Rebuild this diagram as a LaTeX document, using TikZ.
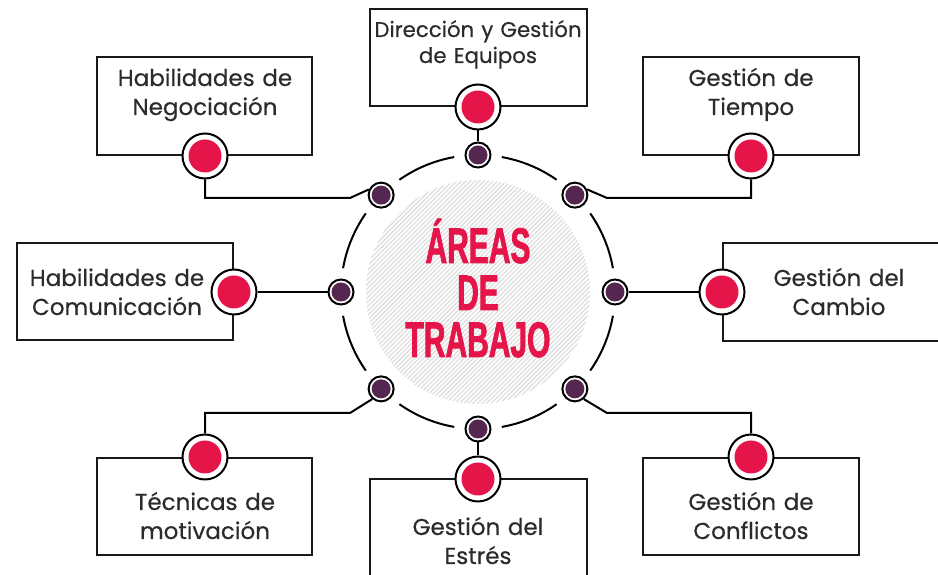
\documentclass[tikz,border=0pt]{standalone}
\usepackage{fontspec}
\usetikzlibrary{calc}
\newfontfamily\lblfont{Poppins}[FakeBold=0.4]
\newfontfamily\ttlfont{Liberation Sans Bold}[FakeStretch=0.6,FakeBold=1.5]
\definecolor{ink}{HTML}{2B2B2B}
\definecolor{crim}{HTML}{E5154A}
\definecolor{plum}{HTML}{55264F}
\definecolor{hatchc}{HTML}{D8D8D8}
\tikzset{
  boxnode/.style={draw=black!90, line width=2pt, fill=white, rectangle, inner sep=0pt},
  lbl/.style={text=ink, font=\lblfont\fontsize{23}{29}\selectfont, align=center, text width=225pt, anchor=base, inner sep=0pt},
  lblsmall/.style={lbl, font=\lblfont\fontsize{21.3}{26}\selectfont},
  smallnode/.style={circle, draw=black, line width=2pt, fill=white, minimum size=25pt, inner sep=0pt,
    path picture={\fill[plum] (path picture bounding box.center) circle (9.5pt);}},
  bignode/.style={circle, draw=black, line width=2pt, fill=white, minimum size=45pt, inner sep=0pt,
    path picture={\fill[crim] (path picture bounding box.center) circle (16.5pt);}},
  conn/.style={line width=2pt, draw=black},
  ringarc/.style={line width=2pt, draw=black},
}
\begin{document}
\begin{tikzpicture}[x=1pt,y=1pt]
\useasboundingbox (0,0) rectangle (938,575);
\clip (0,0) rectangle (938,575);
\coordinate (C) at (478,283);
% hatched centre disc
\fill[white!99!black] (C) circle (112);
\begin{scope}
  \clip (C) circle (112);
  \foreach \i in {-240,-235.5,...,240} {
    \draw[hatchc, line width=0.8pt] ($(C)+(\i-120,-120)$) -- ++(240,240);
  }
\end{scope}
% ring arcs
\foreach \k in {0,...,7} {
  \draw[ringarc] ($(C)+({45*\k+10}:137)$) arc[start angle={45*\k+10}, end angle={45*\k+35}, radius=137];
}
% title
\node[text=crim, font=\ttlfont\fontsize{50}{47}\selectfont, align=center, text width=200pt, anchor=base, inner sep=0pt] (title) at (478,312) {ÁREAS\\DE\\TRABAJO};
% boxes
\node[boxnode, minimum width=215pt, minimum height=98pt] (b1) at (204.5,469) {};
\node[boxnode, minimum width=217pt, minimum height=97pt] (b2) at (478.5,517.5) {};
\node[boxnode, minimum width=216pt, minimum height=98pt] (b3) at (751,469) {};
\node[boxnode, minimum width=230pt, minimum height=98pt] (b4) at (838,283) {};
\node[boxnode, minimum width=216pt, minimum height=97pt] (b5) at (125,283) {};
\node[boxnode, minimum width=215pt, minimum height=97pt] (b6) at (204.5,68.5) {};
\node[boxnode, minimum width=217pt, minimum height=110pt] (b7) at (478.5,41) {};
\node[boxnode, minimum width=216pt, minimum height=97pt] (b8) at (751,68.5) {};
% labels
\node[lbl] (t1) at (205,489) {Habilidades de\\Negociación};
\node[lblsmall] (t2) at (478,538) {Dirección y Gestión\\de Equipos};
\node[lbl] (t3) at (751,489) {Gestión de\\Tiempo};
\node[lbl] (t4) at (839,289) {Gestión del\\Cambio};
\node[lbl] (t5) at (117,289) {Habilidades de\\Comunicación};
\node[lbl] (t6) at (205,65) {Técnicas de\\motivación};
\node[lbl] (t7) at (478,40) {Gestión del\\Estrés};
\node[lbl] (t8) at (751,65) {Gestión de\\Conflictos};
% small ring nodes
\node[smallnode] (sE)  at ($(C)+(0:137)$) {};
\node[smallnode] (sNE) at ($(C)+(45:137)$) {};
\node[smallnode] (sN)  at ($(C)+(90:137)$) {};
\node[smallnode] (sNW) at ($(C)+(135:137)$) {};
\node[smallnode] (sW)  at ($(C)+(180:137)$) {};
\node[smallnode] (sSW) at ($(C)+(225:137)$) {};
\node[smallnode] (sS)  at ($(C)+(270:137)$) {};
\node[smallnode] (sSE) at ($(C)+(315:137)$) {};
% big nodes
\node[bignode] (g1) at (205,419) {};
\node[bignode] (g2) at (478,468) {};
\node[bignode] (g3) at (751,419) {};
\node[bignode] (g4) at (722,283) {};
\node[bignode] (g5) at (234,283) {};
\node[bignode] (g6) at (205,118) {};
\node[bignode] (g7) at (478,96) {};
\node[bignode] (g8) at (751,118) {};
% corner coordinates
\coordinate (k1a) at (205,377);
\coordinate (k1b) at (350,377);
\coordinate (k3a) at (751,377);
\coordinate (k3b) at (607,377);
\coordinate (k6a) at (205,162);
\coordinate (k6b) at (350,162);
\coordinate (k8a) at (751,162);
\coordinate (k8b) at (607,162);
% connectors
\draw[conn] (g1.south) -- (k1a) -- (k1b) -- (sNW.155);
\draw[conn] (g3.south) -- (k3a) -- (k3b) -- (sNE.25);
\draw[conn] (g6.north) -- (k6a) -- (k6b) -- (sSW.229);
\draw[conn] (g8.north) -- (k8a) -- (k8b) -- (sSE.311);
\draw[conn] (g2.south) -- (sN.north);
\draw[conn] (g7.north) -- (sS.south);
\draw[conn] (g4.west) -- (sE.east);
\draw[conn] (g5.east) -- (sW.west);
\end{tikzpicture}
\end{document}
